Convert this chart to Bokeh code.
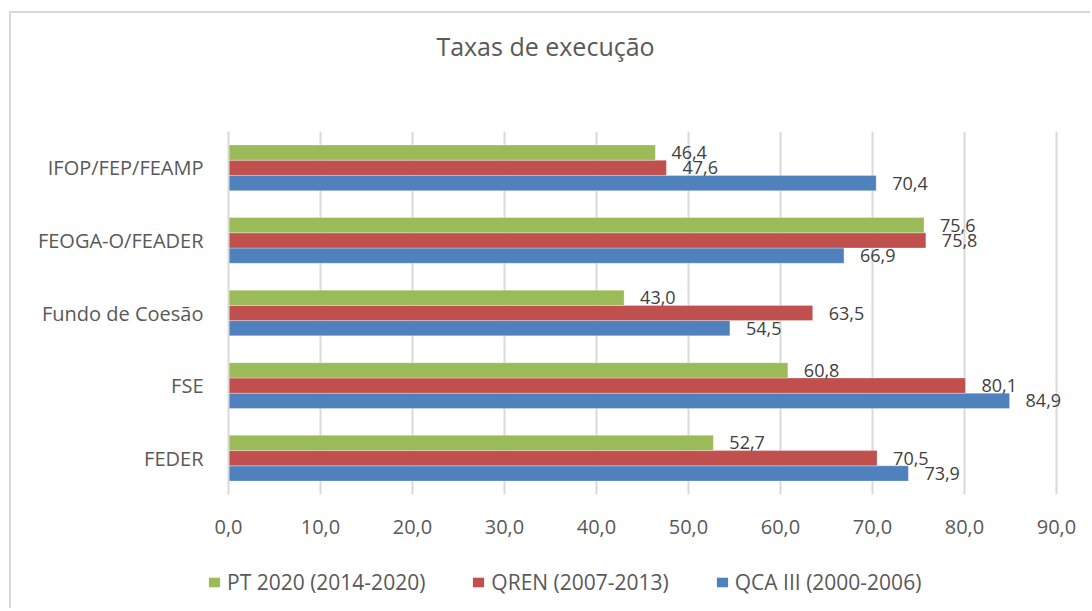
from bokeh.plotting import figure
from bokeh.layouts import column
from bokeh.models import ColumnDataSource, FactorRange, Range1d, FixedTicker, Legend, LegendItem, Label
from bokeh.transform import dodge
from bokeh.core.properties import value
from bokeh.embed import file_html
from bokeh.resources import INLINE

categories = ["FEDER", "FSE", "Fundo de Coesão", "FEOGA-O/FEADER", "IFOP/FEP/FEAMP"]
qca_iii = [73.9, 84.9, 54.5, 66.9, 70.4]
qren = [70.5, 80.1, 63.5, 75.8, 47.6]
pt2020 = [52.7, 60.8, 43.0, 75.6, 46.4]
series_names = ["QCA III (2000-2006)", "QREN (2007-2013)", "PT 2020 (2014-2020)"]
series_colors = ["#4F81BD", "#C0504D", "#9BBB59"]
x_ticks = [0, 10, 20, 30, 40, 50, 60, 70, 80, 90]
x_tick_labels = ["0,0", "10,0", "20,0", "30,0", "40,0", "50,0", "60,0", "70,0", "80,0", "90,0"]
title_text = "Taxas de execução"

FONT = "Open Sans"
TXT = "#595959"
BORDER = "2px solid #d9d9d9"
W = 1081


def fmt(v):
    return f"{v:.1f}".replace(".", ",")


def strip(height, margin, styles):
    f = figure(width=W, height=height, output_backend="svg", toolbar_location=None,
               x_range=Range1d(0, 1), y_range=Range1d(0, 1),
               min_border_left=0, min_border_right=0, min_border_top=0, min_border_bottom=0)
    f.frame_align = False
    f.margin = margin
    f.styles = styles
    f.outline_line_color = None
    f.axis.visible = False
    f.grid.visible = False
    f.background_fill_color = "white"
    f.border_fill_color = "white"
    return f


# title strip
tp = strip(60, (11, 0, 0, 9), {"border-left": BORDER, "border-top": BORDER})
tp.add_layout(Label(x=534, y=28, x_units="screen", y_units="screen", text=title_text,
                    text_font=FONT, text_font_size="25px", text_color=TXT,
                    text_baseline="middle", text_align="center"))

src = ColumnDataSource(dict(
    cat=categories,
    qca=qca_iii, qren=qren, pt=pt2020,
    qca_l=[fmt(v) for v in qca_iii],
    qren_l=[fmt(v) for v in qren],
    pt_l=[fmt(v) for v in pt2020],
))

# main chart; frame: 828 px for 90 units, 860 px wide so labels beyond 90 stay visible
p = figure(width=W, height=490, output_backend="svg", toolbar_location=None,
           y_range=FactorRange(*categories), x_range=Range1d(0, 860 / 9.2),
           min_border_left=217, min_border_right=4, min_border_top=60, min_border_bottom=67)
p.frame_align = False
p.margin = (0, 0, 0, 9)
p.styles = {"border-left": BORDER}
p.outline_line_color = None
p.background_fill_color = "white"
p.border_fill_color = "white"

keys = ["qca", "qren", "pt"]
offs = [-0.21, 0.0, 0.21]
for k, o, c in zip(keys, offs, series_colors):
    p.hbar(y=dodge("cat", o, range=p.y_range), right=k, left=0, height=0.21,
           fill_color=c, line_color="white", line_width=0.6, line_alpha=0.5, source=src)
    p.text(x=k, y=dodge("cat", o, range=p.y_range), text=k + "_l", source=src,
           x_offset=16, text_baseline="middle", text_align="left",
           text_font=value(FONT), text_font_size="18px", text_color="#404040")

p.xgrid.grid_line_color = "#d9d9d9"
p.xgrid.grid_line_width = 2
p.ygrid.grid_line_color = None

p.xaxis.ticker = FixedTicker(ticks=x_ticks)
p.xaxis.major_label_overrides = {t: l for t, l in zip(x_ticks, x_tick_labels)}
p.xaxis.axis_line_color = None
p.xaxis.major_tick_line_color = None
p.xaxis.minor_tick_line_color = None
p.xaxis.major_label_standoff = 19
p.xaxis.major_label_text_font = FONT
p.xaxis.major_label_text_font_size = "20px"
p.xaxis.major_label_text_color = TXT

p.yaxis.axis_line_color = "#d9d9d9"
p.yaxis.axis_line_width = 2
p.yaxis.major_tick_line_color = None
p.yaxis.minor_tick_line_color = None
p.yaxis.major_label_standoff = 19
p.yaxis.major_label_text_font = FONT
p.yaxis.major_label_text_font_size = "20px"
p.yaxis.major_label_text_color = TXT

# legend strip below the chart
lp = strip(47, (0, 0, 0, 9), {"border-left": BORDER})
dummy = ColumnDataSource(dict(y=[-10], right=[-10]))
lrs = [lp.hbar(y="y", right="right", height=0.1, fill_color=c, line_color=None, source=dummy)
       for c in series_colors]

legend = Legend(items=[
    LegendItem(label=series_names[2], renderers=[lrs[2]]),
    LegendItem(label=series_names[1], renderers=[lrs[1]]),
    LegendItem(label=series_names[0], renderers=[lrs[0]]),
], orientation="horizontal", location=(196, 12))
legend.glyph_width = 14
legend.glyph_height = 12
legend.label_standoff = 6
legend.spacing = 46
legend.padding = 0
legend.margin = 0
legend.border_line_color = None
legend.background_fill_alpha = 0
legend.label_text_font = FONT
legend.label_text_font_size = "21px"
legend.label_text_color = TXT
lp.add_layout(legend, "center")

layout = column(tp, p, lp, spacing=0)
open("out.html", "w").write(file_html(layout, INLINE))
